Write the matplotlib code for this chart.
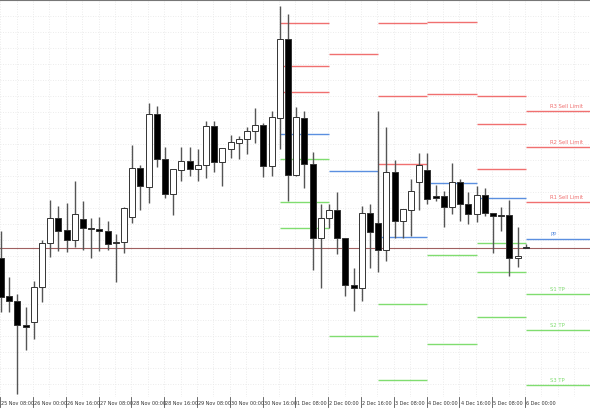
import matplotlib
matplotlib.use("Agg")
import matplotlib.pyplot as plt
import matplotlib.transforms as mtransforms

# Price values are read as chart units (larger = lower on screen; axis is inverted)
opens  = [259,297,302,326,323,288,244,219,231,241,220,229,230,232,243,243,218,169,188,115,160,195,171,162,170,166,127,163,150,144,140,132,126,167,119,40,176,119,165,239,219,211,239,286,289,214,224,251,173,222,211,183,171,197,197,208,183,205,215,196,214,216,216,259,248]
closes = [298,302,326,328,288,244,219,232,241,215,229,230,232,245,244,209,169,187,115,160,195,170,162,170,166,127,163,149,143,140,132,126,167,118,40,176,118,165,239,219,211,239,286,289,214,233,251,173,222,210,192,166,200,199,208,183,205,215,196,214,217,216,259,257,249]
highs  = [232,278,295,308,282,241,201,207,204,182,202,219,218,222,235,208,146,166,104,107,148,170,148,148,150,122,122,149,136,137,128,109,124,112,7,15,108,112,153,205,205,193,239,269,207,205,112,128,161,210,180,154,154,186,192,164,180,193,187,189,214,208,201,228,245]
lows   = [313,313,395,351,340,303,258,252,253,248,251,259,252,251,283,254,224,211,204,168,199,216,182,177,182,179,173,187,159,160,155,144,178,177,150,202,177,189,271,289,229,255,297,312,302,269,273,262,239,239,237,211,205,202,228,215,222,225,223,217,254,232,277,268,249]

x_labels = ["25 Nov 08:00","26 Nov 00:00","26 Nov 16:00","27 Nov 08:00","28 Nov 00:00",
            "28 Nov 16:00","29 Nov 08:00","30 Nov 00:00","30 Nov 16:00","1 Dec 08:00",
            "2 Dec 00:00","2 Dec 16:00","3 Dec 08:00","4 Dec 00:00","4 Dec 16:00",
            "5 Dec 08:00","6 Dec 00:00"]

# daily pivot levels: [R3, R2, R1, PP, S1, S2, S3] (None = off chart)
day_starts = [34, 40, 46, 52, 58, 64]
pivots = [
    [24, 67, 93, 135, 160, 203, 229],
    [None, None, 55, 172, None, None, 337],
    [24, 97, 165, 238, 305, None, 381],
    [23, None, 95, 184, 256, 345, None],
    [97, 125, 170, 199, 244, 273, 318],
    [112, 148, 203, 240, 295, 331, 386],
]
level_names = ["R3 Sell Limit", "R2 Sell Limit", "R1 Sell Limit", "PP", "S1 TP", "S2 TP", "S3 TP"]
current_price = 249

RED, BLUE, GREEN = "#f07070", "#5b8fe0", "#80dd70"
level_colors = [RED, RED, RED, BLUE, GREEN, GREEN, GREEN]

step = 8.2
fig = plt.figure(figsize=(5.9, 4.1), dpi=100)
ax = fig.add_axes([0, 12/410, 1, 397/410])
ax.set_xlim(-1/step, 589/step)
ax.set_ylim(398, 1)

# grid
for gx in range(0, 80, 2):
    ax.axvline(gx - 0.1, color="#e6e6e6", lw=0.6, ls=(0, (1, 2)), zorder=0)
for gy in range(17, 400, 16):
    ax.axhline(gy, color="#e6e6e6", lw=0.6, ls=(0, (1, 2)), zorder=0)

# pivot lines
for d, levels in enumerate(pivots):
    x0 = day_starts[d]
    x1 = x0 + 6 if d < len(pivots) - 1 else 589/step
    for k, v in enumerate(levels):
        if v is None:
            continue
        ax.hlines(v, x0, x1, color=level_colors[k], lw=1.0, zorder=1)
        if d == len(pivots) - 1:
            ax.text(x0 + 3, v - 2.5, level_names[k], color=level_colors[k], fontsize=3.8,
                    ha="left", va="bottom")

ax.axhline(current_price, color="#a06060", lw=0.8, zorder=1)

# candles
for i in range(len(opens)):
    o, c, h, l = opens[i], closes[i], highs[i], lows[i]
    ax.vlines(i, h, l, color="#555555", lw=1.0, zorder=2)
    bull = c < o  # smaller value = higher price
    top, bot = min(o, c), max(o, c)
    ax.bar(i, max(bot - top, 1.2), bottom=top, width=0.72,
           color="white" if bull else "black", edgecolor="#333333", lw=0.7, zorder=3)

# axes style
for s in ["left", "right", "bottom"]:
    ax.spines[s].set_visible(False)
ax.spines["top"].set_color("#777777")
ax.set_yticks([])
ax.set_xticks([])
trans = mtransforms.blended_transform_factory(ax.transData, fig.transFigure)
for j, lab in enumerate(x_labels):
    xi = j * 4
    ax.plot([xi - 0.1, xi - 0.1], [12/410, 2/410], transform=trans,
            color="#555555", lw=0.6, clip_on=False)
    ax.text(xi + 0.05, 6/410, lab, transform=trans, fontsize=3.5, ha="left",
            va="center", color="#333333")

fig.savefig("out.png", dpi=100, facecolor="white")
